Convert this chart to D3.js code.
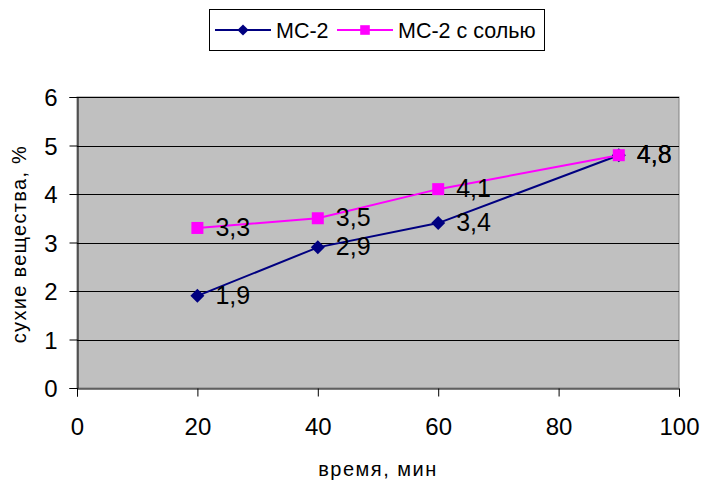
<!DOCTYPE html>
<html><head><meta charset="utf-8">
<script src="https://cdn.jsdelivr.net/npm/d3@7"></script>
<style>body{margin:0;background:#fff}svg{display:block;font-family:"Liberation Sans",Arial,sans-serif}</style>
</head><body><svg id="c" width="704" height="480"></svg>
<script>
const times = [20, 40, 60, 90];
const seriesNames = ["МС-2", "МС-2 с солью"];
const mc2 = [1.9, 2.9, 3.4, 4.8];
const mc2Salt = [3.3, 3.5, 4.1, 4.8];
const xTicks = [0, 20, 40, 60, 80, 100];
const yTicks = [0, 1, 2, 3, 4, 5, 6];
const colors = ["#000080", "#ff00ff"];

const svg = d3.select("#c");
const L = 77, R = 679, T = 97, B = 388;
const x = d3.scaleLinear().domain([0, 100]).range([L, R]);
const y = d3.scaleLinear().domain([0, 6]).range([B, T]);

svg.append("rect").attr("x", L).attr("y", T).attr("width", R - L).attr("height", B - T)
  .attr("fill", "#c0c0c0").attr("stroke", "#808080").attr("stroke-width", 1);

svg.append("g").selectAll("line").data(yTicks.filter(d => d > 0)).join("line")
  .attr("x1", L).attr("x2", R).attr("y1", d => Math.round(y(d)) + 0.5).attr("y2", d => Math.round(y(d)) + 0.5)
  .attr("stroke", "#000").attr("stroke-width", 1);

const yAxis = svg.append("g").attr("transform", `translate(${L + 0.5},0)`)
  .call(d3.axisLeft(y).tickValues(yTicks).tickSize(8).tickPadding(12).tickFormat(d3.format("d")));
const xAxis = svg.append("g").attr("transform", `translate(0,${B + 0.5})`)
  .call(d3.axisBottom(x).tickValues(xTicks).tickSize(8).tickPadding(12).tickFormat(d3.format("d")));
[yAxis, xAxis].forEach(a => {
  a.selectAll("path.domain").attr("stroke", "#000");
  a.selectAll(".tick line").attr("stroke", "#000");
  a.selectAll("text").attr("font-size", 24).attr("fill", "#000").attr("font-family", '"Liberation Sans",Arial,sans-serif');
});
yAxis.selectAll("text").attr("dy", "0.36em");
xAxis.selectAll("text").attr("dy", null).attr("y", 46);

svg.append("text").attr("transform", "translate(26,244) rotate(-90)").attr("text-anchor", "middle")
  .attr("font-size", 20).attr("letter-spacing", 1.3).text("сухие вещества, %");
svg.append("text").attr("x", 378).attr("y", 476).attr("text-anchor", "middle")
  .attr("font-size", 20).attr("letter-spacing", 1.5).text("время, мин");

const data = [mc2, mc2Salt];
const line = d3.line().x((d, i) => x(times[i])).y(d => y(d));
data.forEach((vals, s) => {
  svg.append("path").datum(vals).attr("d", line).attr("fill", "none")
    .attr("stroke", colors[s]).attr("stroke-width", 2);
});
function marker(g, s, cx, cy, k) {
  k = k || 1;
  if (s === 0) {
    const h = 7 * k;
    g.append("path").attr("d", `M0,${-h}L${h},0L0,${h}L${-h},0Z`).attr("transform", `translate(${cx},${cy})`).attr("fill", colors[0]);
  } else {
    const h = 6 * k;
    g.append("rect").attr("x", cx - h).attr("y", cy - h).attr("width", 2 * h).attr("height", 2 * h).attr("fill", colors[1]);
  }
}
const mg = svg.append("g");
data.forEach((vals, s) => vals.forEach((v, i) => marker(mg, s, x(times[i]), y(v))));
const fmt = v => String(v).replace(".", ",");
data.forEach((vals, s) => vals.forEach((v, i) => {
  svg.append("text").attr("x", x(times[i]) + 18).attr("y", y(v) + 8)
    .attr("font-size", 25).attr("fill", "#000").text(fmt(v));
}));

// legend
const lg = svg.append("g");
lg.append("rect").attr("x", 209.5).attr("y", 9.5).attr("width", 335).attr("height", 41)
  .attr("fill", "#fff").attr("stroke", "#000");
const items = [{x: 215, name: seriesNames[0], s: 0}, {x: 337, name: seriesNames[1], s: 1}];
items.forEach(it => {
  lg.append("line").attr("x1", it.x).attr("x2", it.x + 56).attr("y1", 30).attr("y2", 30)
    .attr("stroke", colors[it.s]).attr("stroke-width", 2);
  marker(lg, it.s, it.x + 28, 30, 0.8);
  lg.append("text").attr("x", it.x + 61).attr("y", 38).attr("font-size", 21.5).text(it.name);
});
</script></body></html>
